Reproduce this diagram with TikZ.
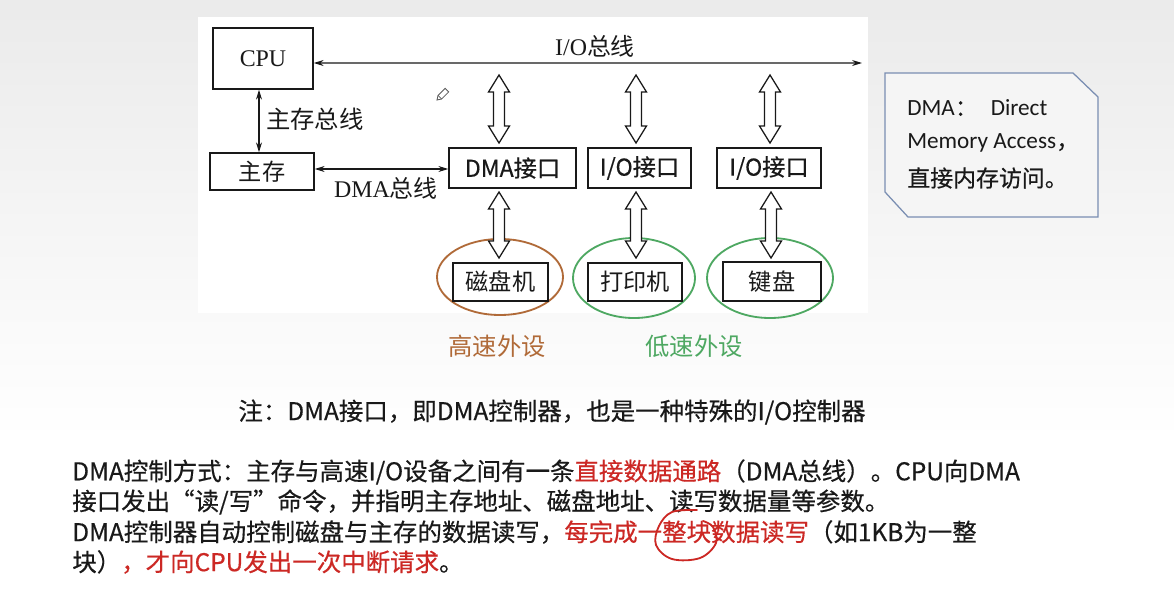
\documentclass[tikz,border=0pt]{standalone}
\usepackage{fontspec}
\setmainfont{Liberation Serif}
\newfontfamily\cjk{Noto Sans CJK SC}
\newfontfamily\cjkb[FakeBold=0.45]{Noto Sans CJK SC}
\newfontfamily\lat{Carlito}
\usetikzlibrary{arrows.meta,calc,shapes.geometric}
\definecolor{brownc}{RGB}{176,106,56}
\definecolor{greenc}{RGB}{78,168,98}
\definecolor{redc}{RGB}{204,40,36}
\definecolor{callb}{RGB}{122,142,178}
\definecolor{ink}{RGB}{25,25,25}
\def\px{0.025cm}
\newcommand\fatarrow[2]{%
  \draw[fat] (#1) -- ($(#1)+(10.5,17)$) -- ($(#1)+(5.5,17)$) -- ($(#2)+(5.5,-17)$)
    -- ($(#2)+(10.5,-17)$) -- (#2) -- ($(#2)+(-10.5,-17)$) -- ($(#2)+(-5.5,-17)$)
    -- ($(#1)+(-5.5,17)$) -- ($(#1)+(-10.5,17)$) -- cycle;}
\begin{document}
\begin{tikzpicture}[x=\px,y=-\px,
  box/.style={draw=ink, line width=1pt, fill=white, inner sep=0pt, text=ink},
  bus/.style={draw=ink, line width=0.9pt, {Stealth[length=7pt,width=4.2pt]}-{Stealth[length=7pt,width=4.2pt]}},
  fat/.style={draw=ink, line width=0.9pt, fill=white},
  dfont/.style={font=\fontsize{17}{20}\selectfont, text=ink, inner sep=0pt},
  cfont/.style={font=\cjk\fontsize{16}{19}\selectfont, text=ink, inner sep=0pt},
  sfont/.style={font=\cjk\fontsize{17.3}{20}\selectfont, text=ink, inner sep=0pt},
  para/.style={font=\cjkb\fontsize{17.4}{21}\selectfont, text=ink, inner sep=0pt, anchor=west},
  ring/.style={ellipse, line width=1.3pt, inner sep=0pt},
  callout/.style={draw=callb, line width=0.9pt, fill=white!96!black}
]
\useasboundingbox (0,0) rectangle (1174,592);
% background
\fill[white] (0,0) rectangle (1174,592);
\shade[top color=black!8, bottom color=white] (0,0) rectangle (1174,440);
\fill[white] (198,17) rectangle (868,313);

% ellipses (behind)
\node[ring, draw=brownc, minimum width=126*\px, minimum height=76*\px] (e1) at (500,277) {};
\node[ring, draw=greenc, minimum width=122*\px, minimum height=80*\px] (e2) at (634,278) {};
\node[ring, draw=greenc, minimum width=126*\px, minimum height=80*\px] (e3) at (770,278) {};

% boxes
\node[box, minimum width=100*\px, minimum height=61*\px, font=\fontsize{17}{20}\selectfont] (cpu) at (263,58.5) {CPU};
\node[box, minimum width=104*\px, minimum height=37*\px, font=\cjk\fontsize{16.5}{19}\selectfont] (mem) at (262,171.5) {主存};
\node[box, minimum width=127*\px, minimum height=40*\px, font=\cjkb\fontsize{16.5}{19}\selectfont] (dma) at (512.5,168) {DMA接口};
\node[box, minimum width=103*\px, minimum height=40*\px, font=\cjkb\fontsize{16.5}{19}\selectfont] (io1) at (639.5,168) {I/O接口};
\node[box, minimum width=104*\px, minimum height=40*\px, font=\cjkb\fontsize{16.5}{19}\selectfont] (io2) at (769,168) {I/O接口};
\node[box, minimum width=95*\px, minimum height=38*\px, font=\cjk\fontsize{16.5}{19}\selectfont] (disk) at (500.5,282) {磁盘机};
\node[box, minimum width=94*\px, minimum height=38*\px, font=\cjk\fontsize{16.5}{19}\selectfont] (prn) at (635,282) {打印机};
\node[box, minimum width=98*\px, minimum height=39*\px, font=\cjk\fontsize{16.5}{19}\selectfont] (kbd) at (772,281.5) {键盘};

% thin buses
\coordinate (busL) at ($(cpu.east)+(0,4.5)$);
\coordinate (busR) at (862,63);
\draw[bus] (busL) -- (busR);
\draw[bus] ($(cpu.south)+(-4,0)$) -- ($(mem.north)+(-3,0)$);
\draw[bus] ($(mem.east)+(0,-2.5)$) -- ($(dma.west)+(0,1)$);

% bus labels
\node[dfont] (lio) at (595,46) {I/O{\cjk 总线}};
\node[sfont, anchor=west] (lmem) at (266,119) {主存总线};
\node[dfont] (ldma) at (386,188) {DMA{\cjk 总线}};

% fat arrows
\coordinate (a1t) at (499,75);  \coordinate (a1b) at (499,143);
\coordinate (a2t) at (636,75);  \coordinate (a2b) at (636,143);
\coordinate (a3t) at (770,75);  \coordinate (a3b) at (770,143);
\coordinate (b1t) at (499,192); \coordinate (b1b) at (499,258);
\coordinate (b2t) at (636,192); \coordinate (b2b) at (636,258);
\coordinate (b3t) at (771,192); \coordinate (b3b) at (771,258);
\fatarrow{a1t}{a1b}
\fatarrow{a2t}{a2b}
\fatarrow{a3t}{a3b}
\fatarrow{b1t}{b1b}
\fatarrow{b2t}{b2b}
\fatarrow{b3t}{b3b}

% category labels
\node[cfont, text=brownc, font=\cjk\fontsize{17.3}{20}\selectfont] (hs) at (497,346) {高速外设};
\node[cfont, text=greenc, font=\cjk\fontsize{17.3}{20}\selectfont] (ls) at (694,346) {低速外设};

% pencil cursor
\draw[black!65, line width=0.6pt, fill=white] (437,100) -- (441.6,99.0) -- (448.7,91.9) -- (445.1,88.3) -- (438.0,95.4) -- cycle;
\draw[black!65, line width=0.6pt] (441.6,99.0) -- (438.0,95.4);

% callout
\draw[callout] (885,73) -- (1073,73) -- (1098,97) -- (1098,217) -- (908,217) -- (885,192) -- cycle;
\node[inner sep=0pt, anchor=west, text=ink, font=\lat\fontsize{16.5}{19}\selectfont] (c1) at (907,108) {DMA{\cjkb ：}\hspace{0.55em}Direct};
\node[inner sep=0pt, anchor=west, text=ink, font=\lat\fontsize{16.5}{19}\selectfont] (c2) at (907,143) {Memory Access{\cjkb ，}};
\node[inner sep=0pt, anchor=west, text=ink, font=\cjkb\fontsize{16.3}{19}\selectfont] (c3) at (907,178) {直接内存访问。};

% note
\node[para, anchor=center] (note) at (552,412) {注：DMA接口，即DMA控制器，也是一种特殊的I/O控制器};

% paragraph
\node[para] (p1) at (72,472) {DMA控制方式：主存与高速I/O设备之间有一条\textcolor{redc}{直接数据通路}（DMA总线）。CPU向DMA};
\node[para] (p2) at (72,502) {接口发出“读/写”命令，并指明主存地址、磁盘地址、读写数据量等参数。};
\node[para] (p3) at (72,532) {DMA控制器自动控制磁盘与主存的数据读写，\textcolor{redc}{每完成一整块数据读写}（如1KB为一整};
\node[para] (p4) at (72,562) {块）\textcolor{redc}{，才向CPU发出一次中断请求}。};

% hand-drawn red loop
\draw[redc, line width=1.3pt, line cap=round] plot[smooth, tension=0.6] coordinates {(697,510) (672,512) (659,526) (656,545) (672,559) (700,558) (716,543) (713,527) (703,521)};
\end{tikzpicture}
\end{document}
